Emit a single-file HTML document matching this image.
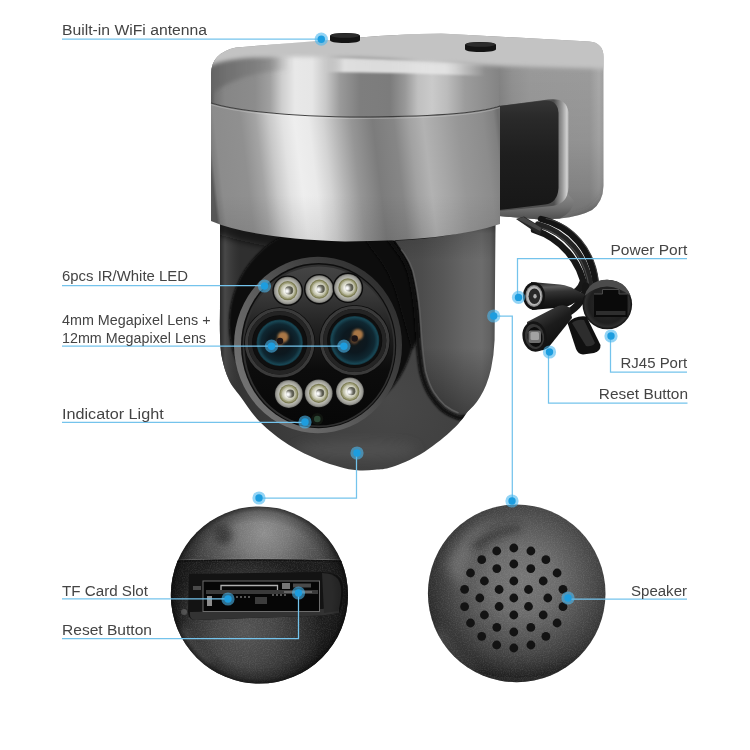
<!DOCTYPE html>
<html lang="en"><head><meta charset="utf-8"><title>Camera parts</title>
<style>
html,body{margin:0;padding:0;background:#fff;width:750px;height:750px;overflow:hidden}
svg{display:block}
text{font-family:"Liberation Sans",sans-serif;font-size:15.4px;fill:#444}
</style></head>
<body>
<svg width="750" height="750" viewBox="0 0 750 750">
<defs>
<filter id="b1" x="-20%" y="-20%" width="140%" height="140%"><feGaussianBlur stdDeviation="1"/></filter>
<filter id="b2" x="-20%" y="-20%" width="140%" height="140%"><feGaussianBlur stdDeviation="2"/></filter>
<filter id="b3" x="-30%" y="-30%" width="160%" height="160%"><feGaussianBlur stdDeviation="3.5"/></filter>
<filter id="b6" x="-40%" y="-40%" width="180%" height="180%"><feGaussianBlur stdDeviation="6"/></filter>
<filter id="noise" x="0" y="0" width="100%" height="100%"><feTurbulence type="fractalNoise" baseFrequency="0.85" numOctaves="2" seed="7" result="n"/><feColorMatrix in="n" type="matrix" values="0 0 0 0 1  0 0 0 0 1  0 0 0 0 1  0 0 0 1.6 -0.62"/></filter>
<filter id="b10" x="-50%" y="-50%" width="200%" height="200%"><feGaussianBlur stdDeviation="10"/></filter>
<linearGradient id="gSil" x1="211" y1="0" x2="604" y2="0" gradientUnits="userSpaceOnUse"><stop offset="0.0" stop-color="#5a5a5a"/><stop offset="0.0102" stop-color="#747474"/><stop offset="0.0356" stop-color="#868686"/><stop offset="0.112" stop-color="#8c8c8c"/><stop offset="0.1501" stop-color="#a0a0a0"/><stop offset="0.1807" stop-color="#cecece"/><stop offset="0.2137" stop-color="#e8e8e8"/><stop offset="0.257" stop-color="#e6e6e6"/><stop offset="0.2926" stop-color="#c8c8c8"/><stop offset="0.3282" stop-color="#9a9a9a"/><stop offset="0.3791" stop-color="#7e7e7e"/><stop offset="0.4555" stop-color="#7c7c7c"/><stop offset="0.4936" stop-color="#989898"/><stop offset="0.5267" stop-color="#c0c0c0"/><stop offset="0.5623" stop-color="#cacaca"/><stop offset="0.6005" stop-color="#bcbcbc"/><stop offset="0.6463" stop-color="#9c9c9c"/><stop offset="0.6972" stop-color="#8e8e8e"/><stop offset="0.7328" stop-color="#848484"/><stop offset="0.7659" stop-color="#929292"/><stop offset="0.8117" stop-color="#9a9a9a"/><stop offset="0.9644" stop-color="#9c9c9c"/><stop offset="0.9873" stop-color="#ababab"/><stop offset="1.0" stop-color="#a0a0a0"/></linearGradient>
<linearGradient id="gBrV" x1="0" y1="0" x2="0" y2="1"><stop offset="0" stop-color="#000" stop-opacity="0"/><stop offset="0.5" stop-color="#000" stop-opacity="0.06"/><stop offset="0.8" stop-color="#000" stop-opacity="0.16"/><stop offset="1" stop-color="#000" stop-opacity="0.3"/></linearGradient>
<linearGradient id="gRoll" x1="212" y1="0" x2="290" y2="0" gradientUnits="userSpaceOnUse"><stop offset="0" stop-color="#646464" stop-opacity="0.85"/><stop offset="0.35" stop-color="#707070" stop-opacity="0.75"/><stop offset="0.7" stop-color="#7c7c7c" stop-opacity="0.55"/><stop offset="1" stop-color="#8c8c8c" stop-opacity="0"/></linearGradient>
<linearGradient id="gEdgeHi" x1="325" y1="0" x2="485" y2="0" gradientUnits="userSpaceOnUse"><stop offset="0" stop-color="#e8e8e8" stop-opacity="0"/><stop offset="0.12" stop-color="#e8e8e8" stop-opacity="0.9"/><stop offset="0.75" stop-color="#e6e6e6" stop-opacity="0.9"/><stop offset="1" stop-color="#e0e0e0" stop-opacity="0"/></linearGradient>
<linearGradient id="gRec" x1="0" y1="0" x2="0" y2="1"><stop offset="0" stop-color="#353535"/><stop offset="0.15" stop-color="#2a2a2a"/><stop offset="0.5" stop-color="#1e1e1e"/><stop offset="1" stop-color="#171717"/></linearGradient>
<linearGradient id="gRecW" x1="554" y1="0" x2="569" y2="0" gradientUnits="userSpaceOnUse"><stop offset="0" stop-color="#4e4e4e"/><stop offset="0.55" stop-color="#9a9a9a"/><stop offset="0.85" stop-color="#cfcfcf"/><stop offset="1" stop-color="#b0b0b0"/></linearGradient>
<linearGradient id="gBotW" x1="0" y1="0" x2="0" y2="1"><stop offset="0" stop-color="#8a8a8a"/><stop offset="0.5" stop-color="#727272"/><stop offset="1" stop-color="#4e4e4e"/></linearGradient>
<linearGradient id="gPw" x1="0" y1="0" x2="0.12" y2="1"><stop offset="0" stop-color="#1d1d1d"/><stop offset="0.22" stop-color="#5a5a5a"/><stop offset="0.4" stop-color="#333"/><stop offset="0.7" stop-color="#1a1a1a"/><stop offset="1" stop-color="#0d0d0d"/></linearGradient>
<linearGradient id="gRs" x1="0" y1="0" x2="0.6" y2="1"><stop offset="0" stop-color="#505050"/><stop offset="0.25" stop-color="#3a3a3a"/><stop offset="0.55" stop-color="#1c1c1c"/><stop offset="1" stop-color="#0c0c0c"/></linearGradient>
<radialGradient id="gRj" cx="0.5" cy="0.5" r="0.5"><stop offset="0" stop-color="#2c2c2c"/><stop offset="0.75" stop-color="#1f1f1f"/><stop offset="0.9" stop-color="#2e2e2e"/><stop offset="1" stop-color="#0e0e0e"/></radialGradient>
<linearGradient id="gCyl" x1="211" y1="170" x2="500" y2="135.3" gradientUnits="userSpaceOnUse"><stop offset="0.0" stop-color="#5a5a5a"/><stop offset="0.0104" stop-color="#7c7c7c"/><stop offset="0.0311" stop-color="#8c8c8c"/><stop offset="0.1211" stop-color="#909090"/><stop offset="0.173" stop-color="#a4a4a4"/><stop offset="0.218" stop-color="#c8c8c8"/><stop offset="0.263" stop-color="#e2e2e2"/><stop offset="0.3045" stop-color="#eeeeee"/><stop offset="0.3529" stop-color="#eaeaea"/><stop offset="0.4014" stop-color="#d4d4d4"/><stop offset="0.4498" stop-color="#b4b4b4"/><stop offset="0.4983" stop-color="#969696"/><stop offset="0.5709" stop-color="#7c7c7c"/><stop offset="0.6436" stop-color="#868686"/><stop offset="0.6955" stop-color="#a2a2a2"/><stop offset="0.7439" stop-color="#b2b2b2"/><stop offset="0.7993" stop-color="#a6a6a6"/><stop offset="0.8616" stop-color="#979797"/><stop offset="0.9481" stop-color="#8c8c8c"/><stop offset="0.9862" stop-color="#808080"/><stop offset="1.0" stop-color="#707070"/></linearGradient>
<linearGradient id="gCylB" x1="0" y1="0" x2="0" y2="1"><stop offset="0" stop-color="#000" stop-opacity="0"/><stop offset="1" stop-color="#000" stop-opacity="0.1"/></linearGradient>
<radialGradient id="gBall" cx="390" cy="400" r="175" gradientUnits="userSpaceOnUse"><stop offset="0" stop-color="#484848"/><stop offset="0.5" stop-color="#3f3f3f"/><stop offset="0.85" stop-color="#353535"/><stop offset="1" stop-color="#2f2f2f"/></radialGradient>
<linearGradient id="gBallL" x1="220" y1="0" x2="240" y2="0" gradientUnits="userSpaceOnUse"><stop offset="0" stop-color="#2a2a2a"/><stop offset="0.25" stop-color="#484848"/><stop offset="1" stop-color="#3c3c3c" stop-opacity="0"/></linearGradient>
<linearGradient id="gArm" x1="400" y1="0" x2="495" y2="0" gradientUnits="userSpaceOnUse"><stop offset="0" stop-color="#484848"/><stop offset="0.22" stop-color="#4c4c4c"/><stop offset="0.45" stop-color="#575757"/><stop offset="0.68" stop-color="#656565"/><stop offset="0.86" stop-color="#6c6c6c"/><stop offset="0.95" stop-color="#626262"/><stop offset="1" stop-color="#4e4e4e"/></linearGradient>
<linearGradient id="gArmV" x1="0" y1="0" x2="0" y2="1"><stop offset="0" stop-color="#000" stop-opacity="0.4"/><stop offset="0.06" stop-color="#000" stop-opacity="0.12"/><stop offset="0.2" stop-color="#000" stop-opacity="0"/><stop offset="0.65" stop-color="#000" stop-opacity="0"/><stop offset="1" stop-color="#000" stop-opacity="0.38"/></linearGradient>
<linearGradient id="gRim" x1="0.1" y1="0.8" x2="0.9" y2="0.2"><stop offset="0" stop-color="#727272"/><stop offset="0.35" stop-color="#5e5e5e"/><stop offset="0.7" stop-color="#424242"/><stop offset="1" stop-color="#303030"/></linearGradient>
<linearGradient id="gFace" x1="0" y1="0" x2="0" y2="1"><stop offset="0" stop-color="#444444"/><stop offset="0.18" stop-color="#383838"/><stop offset="0.4" stop-color="#202020"/><stop offset="0.65" stop-color="#0c0c0c"/><stop offset="1" stop-color="#070707"/></linearGradient>
<radialGradient id="gLedS" cx="0.5" cy="0.5" r="0.5"><stop offset="0" stop-color="#cfcfc8"/><stop offset="0.72" stop-color="#b8b8b0"/><stop offset="0.9" stop-color="#9a9a94"/><stop offset="1" stop-color="#6e6e6a"/></radialGradient>
<radialGradient id="gLedC" cx="0.5" cy="0.5" r="0.5"><stop offset="0" stop-color="#f4f4ea"/><stop offset="0.6" stop-color="#dcdccc"/><stop offset="1" stop-color="#b8b8a0"/></radialGradient>
<radialGradient id="gGlass" cx="0.5" cy="0.5" r="0.5"><stop offset="0" stop-color="#12171a"/><stop offset="0.5" stop-color="#0c181f"/><stop offset="0.8" stop-color="#0f2731"/><stop offset="0.94" stop-color="#184654"/><stop offset="1" stop-color="#11333d"/></radialGradient>
<radialGradient id="gIris" cx="0.5" cy="0.5" r="0.5"><stop offset="0" stop-color="#d8a060"/><stop offset="0.45" stop-color="#9a6434"/><stop offset="1" stop-color="#3a2a20" stop-opacity="0"/></radialGradient>
<radialGradient id="gC1" cx="264" cy="533" r="88" gradientUnits="userSpaceOnUse"><stop offset="0" stop-color="#8e8e8e"/><stop offset="0.28" stop-color="#787878"/><stop offset="0.55" stop-color="#585858"/><stop offset="0.8" stop-color="#404040"/><stop offset="1" stop-color="#333333"/></radialGradient>
<radialGradient id="gC1L" cx="245" cy="632" r="78" gradientUnits="userSpaceOnUse"><stop offset="0" stop-color="#545454"/><stop offset="0.4" stop-color="#454545"/><stop offset="0.75" stop-color="#2e2e2e"/><stop offset="1" stop-color="#1c1c1c"/></radialGradient>
<radialGradient id="gC1V" cx="0.5" cy="0.5" r="0.5"><stop offset="0" stop-color="#000" stop-opacity="0"/><stop offset="0.82" stop-color="#000" stop-opacity="0"/><stop offset="0.94" stop-color="#000" stop-opacity="0.22"/><stop offset="1" stop-color="#000" stop-opacity="0.55"/></radialGradient>
<radialGradient id="gC2" cx="524" cy="580" r="112" gradientUnits="userSpaceOnUse"><stop offset="0" stop-color="#767676"/><stop offset="0.3" stop-color="#6b6b6b"/><stop offset="0.5" stop-color="#575757"/><stop offset="0.68" stop-color="#434343"/><stop offset="0.82" stop-color="#323232"/><stop offset="0.93" stop-color="#262626"/><stop offset="1" stop-color="#1a1a1a"/></radialGradient>
</defs>
<rect width="750" height="750" fill="#fff"/>
<clipPath id="cpSil"><path d="M211,103 L211,74 Q211,53 236,47.5 L330,40 Q400,33.5 441,33.5 L589,41.5 Q603.5,42.5 603.5,57 L603.5,186 Q603,202 592,210 Q580,216.5 560,218.5 L540,219.5 L499,216 L499,106 Q470,117 350,117 Q250,115 211,103 Z"/></clipPath>
<path d="M211,103 L211,74 Q211,53 236,47.5 L330,40 Q400,33.5 441,33.5 L589,41.5 Q603.5,42.5 603.5,57 L603.5,186 Q603,202 592,210 Q580,216.5 560,218.5 L540,219.5 L499,216 L499,106 Q470,117 350,117 Q250,115 211,103 Z" fill="url(#gSil)"/>
<g clip-path="url(#cpSil)">
<rect x="499" y="60" width="106" height="160" fill="url(#gBrV)"/>
<g filter="url(#b3)"><path d="M610,180 Q606,206 585,214 L560,222 L612,222 Z" fill="#444" opacity="0.7"/></g>
<g filter="url(#b2)"><path d="M200,66 Q214,56 253,56 Q280,55.5 295,56 L295,70 Q280,70 266,72 Q228,78 200,102 Z" fill="url(#gRoll)"/></g>
<g filter="url(#b1)"><path d="M320,57 Q400,59 490,64 L490,76 Q400,72.5 320,72 Z" fill="url(#gEdgeHi)"/></g>
<g filter="url(#b2)"><path d="M200,72 Q212,60 253,57.5 Q300,56 360,58 Q430,61 500,66 L610,69 L610,20 L200,20 Z" fill="#c3c3c3"/></g>
</g>
<path d="M499,209 L548,205 Q562,203 568,194 L574,201 Q573,212 560,218.5 L540,219.5 L499,216 Z" fill="url(#gBotW)"/>
<path d="M499,106 L548,99.5 Q566.5,97 568.5,112 L568.5,187 Q568,204 552,206 L499,211 Z" fill="url(#gRecW)"/>
<path d="M499,106 L545,100.5 Q557.5,99.5 558.5,113 L558.5,188 Q557.5,203 545,204.5 L499,210 Z" fill="url(#gRec)"/>
<g fill="none" stroke-linecap="round">
<path d="M541,219 C571,226 593,251 596,286" stroke="#141414" stroke-width="6.4"/>
<path d="M538,224.5 C566,232 587,256 590.5,288" stroke="#232323" stroke-width="6.4"/>
<path d="M534,230 C560,238 581,261 585,290" stroke="#171717" stroke-width="6.4"/>
<path d="M546,218.5 C573,224 595,249 598.5,282" stroke="#3e3e3e" stroke-width="1.1"/>
<path d="M540,227.5 C566,235 585.5,258 589,287" stroke="#4a4a4a" stroke-width="1.1"/>
<path d="M583,282 Q580,292 568,296" stroke="#181818" stroke-width="7"/>
<path d="M586,286 Q584,304 566,314" stroke="#151515" stroke-width="7"/>
</g>
<path d="M516,219 L524,216.5 L543,228 L539.5,235 Z" fill="#262626"/>
<path d="M517,219 L523.5,217 L541.5,228 L540,231 Z" fill="#474747"/>
<path d="M531,282 L560,284.5 Q570,286 574,289 L585,294.5 L585,300.5 L574,303 Q570,306.5 560,307.5 L532,310 Z" fill="url(#gPw)"/>
<ellipse cx="534" cy="296" rx="11" ry="13.8" fill="#121212"/>
<ellipse cx="534" cy="296" rx="8.6" ry="11" fill="#8a8a8a"/>
<ellipse cx="534" cy="296" rx="7.5" ry="9.7" fill="#b8b8b8"/>
<ellipse cx="534.4" cy="296.2" rx="5.8" ry="7.7" fill="#282828"/>
<ellipse cx="535" cy="296.3" rx="1.7" ry="2.3" fill="#b0b0b0"/>
<path d="M527,322 L558,306 Q566,304 570,308 L572,318 L548,348 Q538,354 528,348 Z" fill="url(#gRs)"/>
<ellipse cx="534.5" cy="336.5" rx="12" ry="15.3" fill="#141414" transform="rotate(-10 534.5 336.5)"/>
<ellipse cx="534.5" cy="336.5" rx="9.6" ry="12.6" fill="#363636" transform="rotate(-10 534.5 336.5)"/>
<ellipse cx="535" cy="337" rx="7.4" ry="10" fill="#0c0c0c" transform="rotate(-10 535 337)"/>
<rect x="528.5" y="330.5" width="12.5" height="12.5" rx="2" fill="#6e6e6e"/>
<rect x="530.5" y="332" width="8.5" height="8" rx="1.5" fill="#a2a2a2"/>
<circle cx="607.3" cy="304.5" r="24.8" fill="url(#gRj)"/>
<path d="M584.5,296 Q588,284 598,281 Q607,278.5 617,281.5 Q627,285 630.5,296 Q620,287 607,286.5 Q594,287 584.5,296 Z" fill="#4c4c4c"/>
<path d="M594,294 L602.5,294 L602.5,289.5 L619,289.5 L619,294 L627.5,294 L627.5,317 L594,317 Z" fill="#0a0a0a"/>
<path d="M596,311 L625.5,311 L625.5,315 L596,315 Z" fill="#2e2e2e"/>
<path d="M594,294 L602.5,294 L602.5,289.5 L619,289.5 L619,294 L627.5,294" fill="none" stroke="#4a4a4a" stroke-width="1"/>
<path d="M567.5,323 Q575,315 586.5,316.5 L600.5,345 Q601,351 594,353 L583,354.5 Q578,354 576,349 Z" fill="#101010"/>
<path d="M572,323 Q577,319 584,320 L595,343 Q592,347 586,346 Z" fill="#2d2d2d"/>
<clipPath id="cpBall"><path d="M220.0,215.0 C220.0,229.2 220.0,280.0 220.0,300.0 C220.0,320.0 219.7,325.3 220.0,335.0 C220.3,344.7 220.5,350.5 222.0,358.0 C223.5,365.5 226.0,373.7 229.0,380.0 C232.0,386.3 234.8,389.0 240.0,396.0 C245.2,403.0 251.8,413.8 260.0,422.0 C268.2,430.2 279.3,438.8 289.0,445.0 C298.7,451.2 309.5,455.8 318.0,459.5 C326.5,463.2 333.5,465.2 340.0,467.0 C346.5,468.8 351.2,469.8 357.0,470.3 C362.8,470.8 369.2,470.4 375.0,469.8 C380.8,469.2 384.3,469.6 392.0,467.0 C399.7,464.4 411.3,459.8 421.0,454.0 C430.7,448.2 442.5,438.7 450.0,432.0 C457.5,425.3 460.3,421.8 466.0,414.0 C471.7,406.2 479.7,395.7 484.0,385.0 C488.3,374.3 490.3,364.2 492.0,350.0 C493.7,335.8 493.7,322.5 494.0,300.0 C494.3,277.5 494.0,229.2 494.0,215.0 Z"/></clipPath>
<path d="M220.0,215.0 C220.0,229.2 220.0,280.0 220.0,300.0 C220.0,320.0 219.7,325.3 220.0,335.0 C220.3,344.7 220.5,350.5 222.0,358.0 C223.5,365.5 226.0,373.7 229.0,380.0 C232.0,386.3 234.8,389.0 240.0,396.0 C245.2,403.0 251.8,413.8 260.0,422.0 C268.2,430.2 279.3,438.8 289.0,445.0 C298.7,451.2 309.5,455.8 318.0,459.5 C326.5,463.2 333.5,465.2 340.0,467.0 C346.5,468.8 351.2,469.8 357.0,470.3 C362.8,470.8 369.2,470.4 375.0,469.8 C380.8,469.2 384.3,469.6 392.0,467.0 C399.7,464.4 411.3,459.8 421.0,454.0 C430.7,448.2 442.5,438.7 450.0,432.0 C457.5,425.3 460.3,421.8 466.0,414.0 C471.7,406.2 479.7,395.7 484.0,385.0 C488.3,374.3 490.3,364.2 492.0,350.0 C493.7,335.8 493.7,322.5 494.0,300.0 C494.3,277.5 494.0,229.2 494.0,215.0 Z" fill="url(#gBall)"/>
<g clip-path="url(#cpBall)">
<rect x="219" y="215" width="24" height="210" fill="url(#gBallL)"/>
<g filter="url(#b3)"><path d="M210,205 L505,205 L505,240 Q400,252 330,252 Q260,250 210,232 Z" fill="#0a0a0a" opacity="0.75"/></g>
<g filter="url(#b1)"><ellipse cx="322" cy="324" rx="93" ry="97" fill="#090909"/></g>
<g filter="url(#b1)"><path d="M360,232 L392,232 L400,248 Q408,258 412,270 Q417,290 419,313 L420,335 L412,350 L398,300 Q390,270 372,250 Z" fill="#090909"/></g>
<g filter="url(#b6)"><ellipse cx="355" cy="450" rx="62" ry="9" fill="#5c5c5c" opacity="0.5"/></g>
<g filter="url(#b6)"><path d="M222,380 Q240,430 300,466 L270,470 L215,420 Z" fill="#1a1a1a" opacity="0.6"/></g>
</g>
<path d="M392,236 L400,248 Q408,258 412,270 Q417,290 419,313 L420.5,335 Q422,356 424.5,371 Q428,385 433,393 Q438,401 444,406.5 Q451,412 458.5,414.5 Q462,415.3 465,413.5 Q474,407 480,397 Q487,386 491,369 Q494,355 494.6,340 L495.5,222 Q460,238 392,241 Z" fill="url(#gArm)"/>
<path d="M392,236 L400,248 Q408,258 412,270 Q417,290 419,313 L420.5,335 Q422,356 424.5,371 Q428,385 433,393 Q438,401 444,406.5 Q451,412 458.5,414.5 Q462,415.3 465,413.5 Q474,407 480,397 Q487,386 491,369 Q494,355 494.6,340 L495.5,222 Q460,238 392,241 Z" fill="url(#gArmV)"/>
<path d="M401,249.5 Q409,259 413,271 Q418,291 420,313 L421.5,335 Q423,356 425.5,371 Q429,384.5 434,392.5 Q439,400 445,405.5 Q451.5,410.5 458.5,413" fill="none" stroke="#686868" stroke-width="1.6" opacity="0.75"/>
<g clip-path="url(#cpBall)"><g filter="url(#b1)"><path d="M388,238 L397,250 Q405,260 409,272 Q414,291 416,313 L417.5,335 Q419,357 421.5,372 Q425,386.5 430.5,395 Q436,403.5 442,409 Q449.5,415 458,417.5 Q462,418.5 466,416.5" fill="none" stroke="#070707" stroke-width="4.6" opacity="0.97"/></g></g>
<ellipse cx="318" cy="345" rx="84" ry="88.3" fill="url(#gRim)"/>
<ellipse cx="318.6" cy="345.6" rx="77.6" ry="82.6" fill="#0e0e0e"/>
<ellipse cx="318.8" cy="345.8" rx="76.3" ry="81.3" fill="#303030"/>
<ellipse cx="319" cy="346" rx="74.5" ry="79.5" fill="url(#gFace)"/>
<circle cx="287.7" cy="290.7" r="15.3" fill="#0b0b0b"/>
<circle cx="287.7" cy="290.7" r="13.9" fill="url(#gLedS)"/>
<circle cx="287.7" cy="290.7" r="9.6" fill="#7c7c54"/>
<circle cx="287.7" cy="290.7" r="8.4" fill="#a0a07a"/>
<circle cx="287.7" cy="290.7" r="7.2" fill="url(#gLedC)"/>
<circle cx="289.1" cy="290.4" r="4.1" fill="#5a5a4e"/>
<g filter="url(#b1)"><circle cx="286.9" cy="291.1" r="2.9" fill="#ffffff"/></g>
<circle cx="319.3" cy="289.2" r="15.3" fill="#0b0b0b"/>
<circle cx="319.3" cy="289.2" r="13.9" fill="url(#gLedS)"/>
<circle cx="319.3" cy="289.2" r="9.6" fill="#7c7c54"/>
<circle cx="319.3" cy="289.2" r="8.4" fill="#a0a07a"/>
<circle cx="319.3" cy="289.2" r="7.2" fill="url(#gLedC)"/>
<circle cx="320.7" cy="288.9" r="4.1" fill="#5a5a4e"/>
<g filter="url(#b1)"><circle cx="318.5" cy="289.6" r="2.9" fill="#ffffff"/></g>
<circle cx="347.9" cy="287.8" r="15.3" fill="#0b0b0b"/>
<circle cx="347.9" cy="287.8" r="13.9" fill="url(#gLedS)"/>
<circle cx="347.9" cy="287.8" r="9.6" fill="#7c7c54"/>
<circle cx="347.9" cy="287.8" r="8.4" fill="#a0a07a"/>
<circle cx="347.9" cy="287.8" r="7.2" fill="url(#gLedC)"/>
<circle cx="349.3" cy="287.5" r="4.1" fill="#5a5a4e"/>
<g filter="url(#b1)"><circle cx="347.1" cy="288.2" r="2.9" fill="#ffffff"/></g>
<circle cx="288.8" cy="394" r="15.3" fill="#0b0b0b"/>
<circle cx="288.8" cy="394" r="13.9" fill="url(#gLedS)"/>
<circle cx="288.8" cy="394" r="9.6" fill="#7c7c54"/>
<circle cx="288.8" cy="394" r="8.4" fill="#a0a07a"/>
<circle cx="288.8" cy="394" r="7.2" fill="url(#gLedC)"/>
<circle cx="290.2" cy="393.7" r="4.1" fill="#5a5a4e"/>
<g filter="url(#b1)"><circle cx="288.0" cy="394.4" r="2.9" fill="#ffffff"/></g>
<circle cx="318.7" cy="393.3" r="15.3" fill="#0b0b0b"/>
<circle cx="318.7" cy="393.3" r="13.9" fill="url(#gLedS)"/>
<circle cx="318.7" cy="393.3" r="9.6" fill="#7c7c54"/>
<circle cx="318.7" cy="393.3" r="8.4" fill="#a0a07a"/>
<circle cx="318.7" cy="393.3" r="7.2" fill="url(#gLedC)"/>
<circle cx="320.1" cy="393.0" r="4.1" fill="#5a5a4e"/>
<g filter="url(#b1)"><circle cx="317.9" cy="393.7" r="2.9" fill="#ffffff"/></g>
<circle cx="349.9" cy="391.5" r="15.3" fill="#0b0b0b"/>
<circle cx="349.9" cy="391.5" r="13.9" fill="url(#gLedS)"/>
<circle cx="349.9" cy="391.5" r="9.6" fill="#7c7c54"/>
<circle cx="349.9" cy="391.5" r="8.4" fill="#a0a07a"/>
<circle cx="349.9" cy="391.5" r="7.2" fill="url(#gLedC)"/>
<circle cx="351.3" cy="391.2" r="4.1" fill="#5a5a4e"/>
<g filter="url(#b1)"><circle cx="349.1" cy="391.9" r="2.9" fill="#ffffff"/></g>
<circle cx="279.7" cy="342.8" r="35.6" fill="#0c0c0c"/>
<circle cx="279.7" cy="342.8" r="33.2" fill="none" stroke="#3a3a3a" stroke-width="3.2"/>
<circle cx="279.7" cy="342.8" r="29.6" fill="none" stroke="#242424" stroke-width="4"/>
<circle cx="279.7" cy="342.8" r="27.1" fill="#0f0f0f"/>
<circle cx="279.7" cy="342.8" r="23.2" fill="url(#gGlass)"/>
<g filter="url(#b1)"><circle cx="283.0" cy="337.0" r="5.5" fill="#b9824a" opacity="0.9"/><circle cx="279.5" cy="342.5" r="4" fill="#6a4a30" opacity="0.8"/></g>
<circle cx="280.0" cy="341.0" r="3.2" fill="#1c1416"/>
<circle cx="354.7" cy="340.5" r="35.6" fill="#0c0c0c"/>
<circle cx="354.7" cy="340.5" r="33.2" fill="none" stroke="#3a3a3a" stroke-width="3.2"/>
<circle cx="354.7" cy="340.5" r="29.6" fill="none" stroke="#242424" stroke-width="4"/>
<circle cx="354.7" cy="340.5" r="27.1" fill="#0f0f0f"/>
<circle cx="354.7" cy="340.5" r="24.6" fill="url(#gGlass)"/>
<g filter="url(#b1)"><circle cx="357.7" cy="334.5" r="5.5" fill="#b9824a" opacity="0.9"/><circle cx="354.2" cy="340" r="4" fill="#6a4a30" opacity="0.8"/></g>
<circle cx="354.7" cy="338.5" r="3.2" fill="#1c1416"/>
<circle cx="317.3" cy="419" r="6" fill="#10140f"/>
<circle cx="317.3" cy="419" r="3.3" fill="#2b4634"/>
<path d="M211,103 Q250,115 350,117 Q470,117 500,106 L500,224 Q450,241 345,241.5 Q250,238 211,221 Z" fill="url(#gCyl)"/>
<path d="M211,103 Q250,115 350,117 Q470,117 500,106" fill="none" stroke="#333" stroke-width="1.1" opacity="0.9"/>
<path d="M211,104.6 Q250,116.6 350,118.6 Q470,118.6 500,107.6" fill="none" stroke="#f2f2f2" stroke-width="1" opacity="0.25"/>
<clipPath id="cpCyl"><path d="M211,103 Q250,115 350,117 Q470,117 500,106 L500,224 Q450,241 345,241.5 Q250,238 211,221 Z"/></clipPath>
<rect x="205" y="195" width="300" height="50" fill="url(#gCylB)" clip-path="url(#cpCyl)"/>
<path d="M330,36 Q330,33 345,33 Q360,33 360,36 L360,40 Q360,43 345,43 Q330,43 330,40 Z" fill="#141414"/>
<path d="M465,45 Q465,42 480,42 Q496,42 496,45 L496,49 Q496,52 480,52 Q465,52 465,49 Z" fill="#141414"/>
<ellipse cx="345" cy="35.5" rx="14" ry="2.3" fill="#2c2c2c"/>
<ellipse cx="480.5" cy="44.5" rx="14.5" ry="2.3" fill="#2c2c2c"/>
<circle cx="259.4" cy="595" r="88.6" fill="url(#gC1)"/>
<clipPath id="cp1"><circle cx="259.4" cy="595" r="88.6"/></clipPath>
<g clip-path="url(#cp1)">
<g filter="url(#b3)"><ellipse cx="223" cy="535" rx="9" ry="10" fill="#2e2e2e" opacity="0.75"/></g>
<path d="M165,561 Q259,558 355,561 L355,690 L165,690 Z" fill="url(#gC1L)"/>
<path d="M165,560.2 Q259,557.2 355,560.2" fill="none" stroke="#8a8a8a" stroke-width="1" opacity="0.6"/>
<path d="M165,561.5 Q259,558.5 355,561.5" fill="none" stroke="#111" stroke-width="1.6"/>
<g filter="url(#b3)"><path d="M176,630 Q186,652 206,668 L212,660 Q196,646 186,626 Z" fill="#666" opacity="0.6"/></g>
<rect x="165" y="500" width="190" height="190" filter="url(#noise)" opacity="0.13"/>
<path d="M189,574 L322,572 Q334,572 340,578 Q344,584 343,596 Q342,608 339,613 L322,615.5 L196,620 Q188,620 188,612 Z" fill="#131313"/>
<path d="M190,612 L322,609 L339,606 L339,613 L322,615.5 L196,620 Q189,620 190,612 Z" fill="#333"/>
<path d="M322,573 Q333,573 338,579 Q342,585 341,596 Q340,607 338,611 L324,613 Z" fill="#2a2a2a"/>
<rect x="203" y="581" width="116.5" height="30.5" fill="#060606" stroke="#6c6c6c" stroke-width="1"/>
<path d="M221,591 L221,585.5 L277.5,585.5 L277.5,591" fill="none" stroke="#b0b0b0" stroke-width="1.3"/>
<rect x="206" y="590" width="112" height="4" fill="#3a3a3a"/>
<rect x="207" y="596" width="5" height="10" fill="#8c8c8c"/>
<rect x="255" y="597" width="12" height="7" fill="#3c3c3c"/>
<path d="M236,597 h2 m2,0 h2 m2,0 h2 m2,0 h2 M272,595 h2 m2,0 h2 m2,0 h2 m2,0 h2" stroke="#555" stroke-width="2" fill="none"/>
<rect x="282" y="583" width="8" height="6" fill="#777"/>
<rect x="293" y="583.5" width="18" height="4" fill="#4a4a4a"/>
<path d="M284,592 L312,592" stroke="#666" stroke-width="2"/>
<circle cx="184" cy="612" r="3" fill="#5a5a5a"/>
<rect x="193" y="586" width="8" height="4" fill="#4a4a4a"/>
<circle cx="259.4" cy="595" r="88.6" fill="url(#gC1V)"/>
</g>
<circle cx="516.7" cy="593.4" r="88.8" fill="url(#gC2)"/>
<clipPath id="cp2"><circle cx="516.7" cy="593.4" r="88.8"/></clipPath>
<g clip-path="url(#cp2)">
<g filter="url(#b6)"><path d="M446,566 Q458,532 498,517 Q468,540 462,590 Z" fill="#8c8c8c" opacity="0.5"/></g>
<g filter="url(#b3)"><path d="M470,545 Q490,528 520,524 L520,532 Q495,535 478,552 Z" fill="#262626" opacity="0.55"/></g>
<g filter="url(#b6)"><path d="M440,625 Q452,655 480,672 L470,680 L432,640 Z" fill="#7a7a7a" opacity="0.45"/></g>
<g filter="url(#b10)"><path d="M430,650 Q516,705 606,650 L606,700 L430,700 Z" fill="#101010" opacity="0.5"/></g>
<rect x="425" y="500" width="190" height="190" filter="url(#noise)" opacity="0.13"/>
</g>
<circle cx="513.8" cy="598.0" r="4.4" fill="#131313"/>
<circle cx="513.8" cy="581.0" r="4.4" fill="#131313"/>
<circle cx="499.1" cy="589.5" r="4.4" fill="#131313"/>
<circle cx="499.1" cy="606.5" r="4.4" fill="#131313"/>
<circle cx="513.8" cy="615.0" r="4.4" fill="#131313"/>
<circle cx="528.5" cy="606.5" r="4.4" fill="#131313"/>
<circle cx="528.5" cy="589.5" r="4.4" fill="#131313"/>
<circle cx="513.8" cy="564.0" r="4.4" fill="#131313"/>
<circle cx="496.8" cy="568.6" r="4.4" fill="#131313"/>
<circle cx="484.4" cy="581.0" r="4.4" fill="#131313"/>
<circle cx="479.8" cy="598.0" r="4.4" fill="#131313"/>
<circle cx="484.4" cy="615.0" r="4.4" fill="#131313"/>
<circle cx="496.8" cy="627.4" r="4.4" fill="#131313"/>
<circle cx="513.8" cy="632.0" r="4.4" fill="#131313"/>
<circle cx="530.8" cy="627.4" r="4.4" fill="#131313"/>
<circle cx="543.2" cy="615.0" r="4.4" fill="#131313"/>
<circle cx="547.8" cy="598.0" r="4.4" fill="#131313"/>
<circle cx="543.2" cy="581.0" r="4.4" fill="#131313"/>
<circle cx="530.8" cy="568.6" r="4.4" fill="#131313"/>
<circle cx="513.8" cy="548.0" r="4.4" fill="#131313"/>
<circle cx="496.7" cy="551.0" r="4.4" fill="#131313"/>
<circle cx="481.7" cy="559.7" r="4.4" fill="#131313"/>
<circle cx="470.5" cy="573.0" r="4.4" fill="#131313"/>
<circle cx="464.6" cy="589.3" r="4.4" fill="#131313"/>
<circle cx="464.6" cy="606.7" r="4.4" fill="#131313"/>
<circle cx="470.5" cy="623.0" r="4.4" fill="#131313"/>
<circle cx="481.7" cy="636.3" r="4.4" fill="#131313"/>
<circle cx="496.7" cy="645.0" r="4.4" fill="#131313"/>
<circle cx="513.8" cy="648.0" r="4.4" fill="#131313"/>
<circle cx="530.9" cy="645.0" r="4.4" fill="#131313"/>
<circle cx="545.9" cy="636.3" r="4.4" fill="#131313"/>
<circle cx="557.1" cy="623.0" r="4.4" fill="#131313"/>
<circle cx="563.0" cy="606.7" r="4.4" fill="#131313"/>
<circle cx="563.0" cy="589.3" r="4.4" fill="#131313"/>
<circle cx="557.1" cy="573.0" r="4.4" fill="#131313"/>
<circle cx="545.9" cy="559.7" r="4.4" fill="#131313"/>
<circle cx="530.9" cy="551.0" r="4.4" fill="#131313"/>
<g fill="none" stroke="#74c3ec" stroke-width="1.25">
<path d="M62,39 H321"/>
<path d="M62,285.5 H264.5"/>
<path d="M62,346.2 H344"/>
<path d="M62,422.3 H305"/>
<path d="M62,598.8 H228"/>
<path d="M62,638.6 H298.5 V593"/>
<path d="M259,498 H356.5 V453"/>
<path d="M493.7,316 H512.3 V501"/>
<path d="M687,258.6 H517.5 V297"/>
<path d="M687,372 H610.5 V336"/>
<path d="M687.5,403 H548.5 V352"/>
<path d="M687,599 H568"/>
</g>
<circle cx="321.3" cy="39.2" r="6.6" fill="#4bb8ee" opacity="0.6"/>
<circle cx="321.3" cy="39.2" r="3.7" fill="#1d9ddf"/>
<circle cx="264.5" cy="286" r="6.6" fill="#4bb8ee" opacity="0.6"/>
<circle cx="264.5" cy="286" r="3.7" fill="#1d9ddf"/>
<circle cx="271.5" cy="346.2" r="6.6" fill="#4bb8ee" opacity="0.6"/>
<circle cx="271.5" cy="346.2" r="3.7" fill="#1d9ddf"/>
<circle cx="343.9" cy="346.2" r="6.6" fill="#4bb8ee" opacity="0.6"/>
<circle cx="343.9" cy="346.2" r="3.7" fill="#1d9ddf"/>
<circle cx="305" cy="422" r="6.6" fill="#4bb8ee" opacity="0.6"/>
<circle cx="305" cy="422" r="3.7" fill="#1d9ddf"/>
<circle cx="357" cy="453" r="6.6" fill="#4bb8ee" opacity="0.6"/>
<circle cx="357" cy="453" r="3.7" fill="#1d9ddf"/>
<circle cx="259" cy="498" r="6.6" fill="#4bb8ee" opacity="0.6"/>
<circle cx="259" cy="498" r="3.7" fill="#1d9ddf"/>
<circle cx="228" cy="599" r="6.6" fill="#4bb8ee" opacity="0.6"/>
<circle cx="228" cy="599" r="3.7" fill="#1d9ddf"/>
<circle cx="298.5" cy="593" r="6.6" fill="#4bb8ee" opacity="0.6"/>
<circle cx="298.5" cy="593" r="3.7" fill="#1d9ddf"/>
<circle cx="493.7" cy="316" r="6.6" fill="#4bb8ee" opacity="0.6"/>
<circle cx="493.7" cy="316" r="3.7" fill="#1d9ddf"/>
<circle cx="518.5" cy="297.4" r="6.6" fill="#4bb8ee" opacity="0.6"/>
<circle cx="518.5" cy="297.4" r="3.7" fill="#1d9ddf"/>
<circle cx="611" cy="336" r="6.6" fill="#4bb8ee" opacity="0.6"/>
<circle cx="611" cy="336" r="3.7" fill="#1d9ddf"/>
<circle cx="549.5" cy="352" r="6.6" fill="#4bb8ee" opacity="0.6"/>
<circle cx="549.5" cy="352" r="3.7" fill="#1d9ddf"/>
<circle cx="568" cy="598" r="6.6" fill="#4bb8ee" opacity="0.6"/>
<circle cx="568" cy="598" r="3.7" fill="#1d9ddf"/>
<circle cx="512" cy="501" r="6.6" fill="#4bb8ee" opacity="0.6"/>
<circle cx="512" cy="501" r="3.7" fill="#1d9ddf"/>
<g opacity="0.999">
<text x="62" y="35.4" textLength="145" lengthAdjust="spacingAndGlyphs">Built-in WiFi antenna</text>
<text x="62" y="280.7" textLength="126" lengthAdjust="spacingAndGlyphs">6pcs IR/White LED</text>
<text x="62" y="324.7" textLength="148.6" lengthAdjust="spacingAndGlyphs">4mm Megapixel Lens +</text>
<text x="62" y="343" textLength="144" lengthAdjust="spacingAndGlyphs">12mm Megapixel Lens</text>
<text x="62" y="419.4" textLength="101.7" lengthAdjust="spacingAndGlyphs">Indicator Light</text>
<text x="62" y="595.6" textLength="86" lengthAdjust="spacingAndGlyphs">TF Card Slot</text>
<text x="62" y="635" textLength="90" lengthAdjust="spacingAndGlyphs">Reset Button</text>
<text x="610.5" y="255" textLength="76.7" lengthAdjust="spacingAndGlyphs">Power Port</text>
<text x="620.5" y="367.6" textLength="66.6" lengthAdjust="spacingAndGlyphs">RJ45 Port</text>
<text x="598.8" y="399.3" textLength="89.2" lengthAdjust="spacingAndGlyphs">Reset Button</text>
<text x="631" y="596" textLength="56" lengthAdjust="spacingAndGlyphs">Speaker</text>
</g>
</svg>
</body></html>
